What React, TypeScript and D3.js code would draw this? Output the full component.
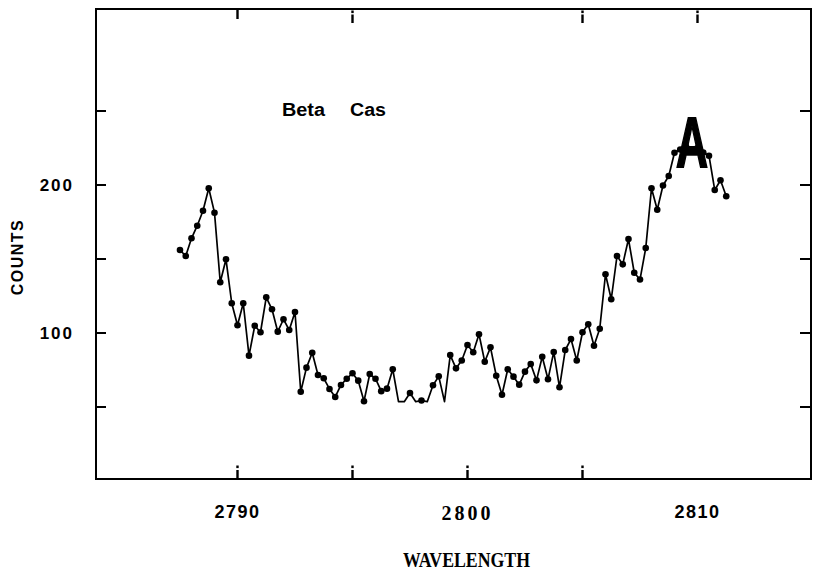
import React from "react";
import * as d3 from "d3";

// Wavelength grid (Å): first sample and step
const WAVE_START = 2787.5;
const WAVE_STEP = 0.25;

// Counts (values below the plot floor are estimates)
const counts: number[] = [
  156.1, 152.0, 164.0, 172.5, 182.6, 197.8, 181.3, 134.3, 149.8, 120.1,
  105.2, 120.1, 84.7, 104.9, 100.5, 124.1, 116.0, 100.9, 109.3, 102.0,
  114.2, 60.3, 76.6, 86.7, 71.6, 69.4, 62.2, 56.8, 64.9, 69.1,
  72.8, 67.8, 53.9, 72.3, 69.1, 60.7, 62.4, 75.5, 48, 50,
  59.5, 49, 54.4, 50, 64.7, 70.7, 52, 85.1, 76.1, 81.4,
  91.9, 87.0, 99.2, 80.6, 90.3, 71.1, 58.3, 75.5, 70.5, 65.1,
  73.9, 79.1, 68.0, 84.0, 68.7, 87.2, 63.3, 88.5, 95.9, 81.4,
  100.5, 105.9, 91.4, 102.9, 139.7, 122.8, 152.0, 146.4, 163.5, 140.7,
  136.1, 157.4, 197.8, 183.3, 199.7, 206.1, 221.8, 224, 226, 223,
  225, 222, 219.8, 196.6, 203.2, 192.4,
];

const FLOOR = 53.6; // plot floor: lower values are drawn clamped
const yTicks = [50, 100, 150, 200, 250];
const yLabels = [100, 200];
const xTicksBottom = [2790, 2795, 2800, 2805];
const xTicksTop = [2790, 2795, 2805, 2810];
const xLabels = [
  { v: 2790, serif: false },
  { v: 2800, serif: true },
  { v: 2810, serif: false },
];

const X0 = 96, X1 = 811, Y0 = 9, Y1 = 479;

export default function App() {
  const x = d3.scaleLinear().domain([2783.848, 2814.935]).range([X0, X1]);
  const y = d3.scaleLinear().domain([1.35, 318.92]).range([Y1, Y0]);
  const pts: [number, number][] = counts.map((c, i) => [WAVE_START + i * WAVE_STEP, c]);
  const line = d3
    .line<[number, number]>()
    .x((d) => x(d[0]))
    .y((d) => y(Math.max(d[1], FLOOR)));
  const sans = "'Liberation Sans', Arial, sans-serif";
  const serif = "'Liberation Serif', 'Times New Roman', serif";

  return (
    <svg
      width={814}
      height={572}
      style={{ position: "absolute", left: 0, top: 0, background: "#fff" }}
    >
      <rect x={0} y={0} width={814} height={572} fill="#fff" />
      {/* frame */}
      <rect x={X0} y={Y0} width={X1 - X0} height={Y1 - Y0} fill="none" stroke="#000" strokeWidth={2} />
      {/* y ticks left and right */}
      {yTicks.map((t) => (
        <g key={"yt" + t}>
          <line x1={X0} x2={X0 + 10} y1={y(t)} y2={y(t)} stroke="#000" strokeWidth={2} />
          <line x1={X1 - 11} x2={X1} y1={y(t)} y2={y(t)} stroke="#000" strokeWidth={2} />
        </g>
      ))}
      {/* bottom ticks ("i" shaped) */}
      {xTicksBottom.map((t) => (
        <g key={"xb" + t}>
          <rect x={x(t) - 1.2} y={Y1 - 9} width={2.4} height={9} fill="#000" />
          <rect x={x(t) - 1.2} y={Y1 - 13.5} width={2.4} height={2.6} fill="#000" />
        </g>
      ))}
      {/* top ticks */}
      {xTicksTop.map((t, i) =>
        i === 0 ? (
          <rect key={"xt" + t} x={x(t) - 1.2} y={Y0} width={2.4} height={10} fill="#000" />
        ) : (
          <g key={"xt" + t}>
            <rect x={x(t) - 1.2} y={Y0 + 1.5} width={2.4} height={2.6} fill="#000" />
            <rect x={x(t) - 1.2} y={Y0 + 5.5} width={2.4} height={8.5} fill="#000" />
          </g>
        )
      )}
      {/* y labels */}
      {yLabels.map((t) => (
        <text
          key={"yl" + t}
          x={74}
          y={y(t) + 6}
          textAnchor="end"
          fontFamily={sans}
          fontWeight="bold"
          fontSize={17}
          letterSpacing={2}
          fill="#000"
        >
          {t}
        </text>
      ))}
      <text
        transform="translate(23,257) rotate(-90)"
        textAnchor="middle"
        fontFamily={sans}
        fontWeight="bold"
        fontSize={16}
        letterSpacing={1.5}
        fill="#000"
      >
        COUNTS
      </text>
      {/* x labels */}
      {xLabels.map((l) => (
        <text
          key={"xl" + l.v}
          x={x(l.v)}
          y={l.serif ? 520 : 518}
          textAnchor="middle"
          fontFamily={l.serif ? serif : sans}
          fontWeight="bold"
          fontSize={l.serif ? 20 : 18}
          letterSpacing={l.serif ? 3 : 1.5}
          fill="#000"
        >
          {l.v}
        </text>
      ))}
      <text
        x={403}
        y={567}
        textLength={127}
        lengthAdjust="spacingAndGlyphs"
        fontFamily={serif}
        fontWeight="bold"
        fontSize={22}
        fill="#000"
      >
        WAVELENGTH
      </text>
      {/* annotations */}
      <text x={282} y={116} textLength={43} lengthAdjust="spacingAndGlyphs" fontFamily={sans} fontWeight="bold" fontSize={18} fill="#000">
        Beta
      </text>
      <text x={350} y={116} textLength={36} lengthAdjust="spacingAndGlyphs" fontFamily={sans} fontWeight="bold" fontSize={18} fill="#000">
        Cas
      </text>
      {/* data */}
      <path d={line(pts) ?? ""} fill="none" stroke="#000" strokeWidth={1.7} strokeLinejoin="round" />
      {pts
        .filter((d) => d[1] >= FLOOR)
        .map((d, i) => (
          <circle key={"p" + i} cx={x(d[0])} cy={y(d[1])} r={3.3} fill="#000" />
        ))}
      <text
        x={676}
        y={167}
        textLength={32}
        lengthAdjust="spacingAndGlyphs"
        fontFamily={sans}
        fontWeight="bold"
        fontSize={70}
        fill="#000"
        stroke="#000"
        strokeWidth={2}
        strokeLinejoin="miter"
      >
        A
      </text>
    </svg>
  );
}
